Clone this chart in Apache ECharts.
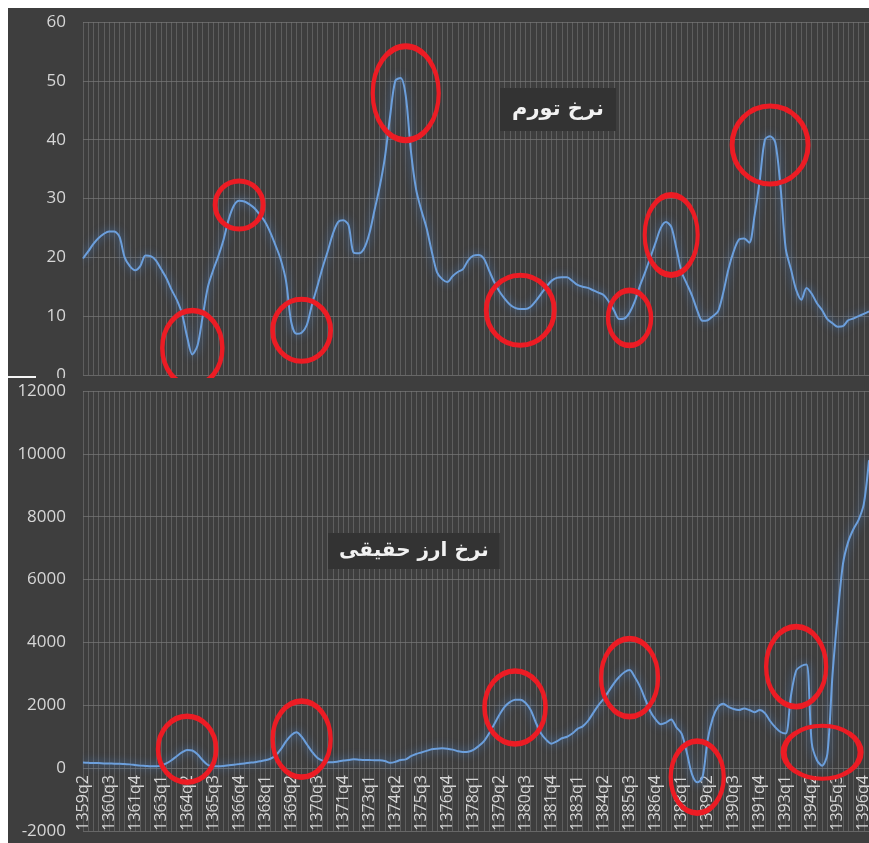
<!DOCTYPE html>
<html><head><meta charset="utf-8">
<script src="https://cdn.jsdelivr.net/npm/echarts@6/dist/echarts.min.js"></script>
<style>
html,body{margin:0;padding:0;background:#fff;width:869px;height:843px;overflow:hidden;}
#top{position:absolute;left:8px;top:8px;width:861px;height:370px;background:#3e3e3e;}
#bot{position:absolute;left:8px;top:378px;width:861px;height:465px;background:#3e3e3e;}
#sep{position:absolute;left:8px;top:376px;width:28px;height:2px;background:#f4f4f4;}
</style></head><body>
<div id="top"></div><div id="bot"></div><div id="sep"></div>
<script>
// Quarterly categories (Iranian calendar), 1359q2 .. 1397q1
var categories = [
'1359q2','1359q3','1359q4',
'1360q1','1360q2','1360q3','1360q4','1361q1','1361q2','1361q3','1361q4',
'1362q1','1362q2','1362q3','1362q4','1363q1','1363q2','1363q3','1363q4',
'1364q1','1364q2','1364q3','1364q4','1365q1','1365q2','1365q3','1365q4',
'1366q1','1366q2','1366q3','1366q4','1367q1','1367q2','1367q3','1367q4',
'1368q1','1368q2','1368q3','1368q4','1369q1','1369q2','1369q3','1369q4',
'1370q1','1370q2','1370q3','1370q4','1371q1','1371q2','1371q3','1371q4',
'1372q1','1372q2','1372q3','1372q4','1373q1','1373q2','1373q3','1373q4',
'1374q1','1374q2','1374q3','1374q4','1375q1','1375q2','1375q3','1375q4',
'1376q1','1376q2','1376q3','1376q4','1377q1','1377q2','1377q3','1377q4',
'1378q1','1378q2','1378q3','1378q4','1379q1','1379q2','1379q3','1379q4',
'1380q1','1380q2','1380q3','1380q4','1381q1','1381q2','1381q3','1381q4',
'1382q1','1382q2','1382q3','1382q4','1383q1','1383q2','1383q3','1383q4',
'1384q1','1384q2','1384q3','1384q4','1385q1','1385q2','1385q3','1385q4',
'1386q1','1386q2','1386q3','1386q4','1387q1','1387q2','1387q3','1387q4',
'1388q1','1388q2','1388q3','1388q4','1389q1','1389q2','1389q3','1389q4',
'1390q1','1390q2','1390q3','1390q4','1391q1','1391q2','1391q3','1391q4',
'1392q1','1392q2','1392q3','1392q4','1393q1','1393q2','1393q3','1393q4',
'1394q1','1394q2','1394q3','1394q4','1395q1','1395q2','1395q3','1395q4',
'1396q1','1396q2','1396q3','1396q4','1397q1'
];

// Inflation rate (%)
var inflation = [
19.8,21,22.3,23.3,24,24.4,24.4,23.5,20,18.5,
17.8,18.5,20.3,20.2,19.5,18,16.5,14.5,12.8,10.5,
6.5,3.5,5,10,15,17.8,20.2,23,26.5,28.8,
29.6,29.5,29,28.3,27.2,26,24.2,22,19.6,16,
9,7,7.2,8.5,12,15,18.2,21,24,26,
26.3,25.5,20.8,20.7,21.5,24,28,32,37,44,
50,50.5,47.5,38,31.5,28,25,21,17.5,16.3,
15.8,16.8,17.5,18,19.5,20.3,20.4,19.8,17.8,15.8,
14.2,13,12,11.4,11.2,11.2,11.6,12.6,13.8,15,
16,16.5,16.6,16.6,16,15.3,15,14.8,14.4,14,
13.6,12.5,11,9.5,9.6,10.6,12.5,15.2,17.5,20,
22.5,25,26,25.2,21.5,17.5,15.5,13.5,11,9.2,
9.3,10,10.8,14,18,21,23,23.2,22.5,27,
33,40,40.6,39.5,32,21.5,18,14.5,12.8,14.8,
13.8,12.2,11,9.5,8.8,8.2,8.3,9.3,9.6,10,
10.4,10.8
];

// Real exchange rate
var realRate = [
180,170,160,160,150,150,140,140,130,120,
100,80,70,60,60,80,150,250,380,500,
580,560,440,250,100,60,60,70,90,110,
130,150,170,190,220,250,300,400,600,850,
1050,1140,1000,760,520,330,240,190,190,210,
240,260,280,270,260,260,250,250,230,170,
200,260,280,380,450,500,550,600,620,630,
620,590,540,510,520,580,700,850,1100,1400,
1700,1950,2100,2180,2180,2080,1850,1450,1100,900,
780,850,950,1000,1100,1250,1330,1500,1750,2000,
2200,2450,2700,2900,3050,3120,2900,2600,2200,1800,
1550,1400,1450,1550,1300,1100,500,-200,-450,-300,
900,1600,1950,2050,1950,1880,1850,1900,1850,1780,
1850,1750,1500,1300,1150,1100,2300,3100,3250,3300,
800,250,80,450,3000,4900,6500,7200,7600,7900,
8400,9800
];

// Red highlight ellipses: [category index, value, width px, height px]
var inflationMarks = [
[21,4.6,60,75],[30,28.9,48,48],[42,7.6,58,62],[62,47.9,66,94],
[84,11.0,68,70],[105,9.7,43,55],[113,23.8,53,80],[132,39.1,76,78]
];
var rateMarks = [
[20,600,58,66],[42,920,58,76],[83,1930,61,73],[105,2880,57,78],
[118,-285,53,72],[137,3230,60,80],[142,507,77,53]
];

var rateMin = -2000, rateMax = 12000, rateStep = 2000;
var botGridH = 440;

var labelColor = '#d6d6d6';
var vLine = 'rgba(120,120,120,0.55)';
var hLine = '#676767';
var lineColor = '#6c9fdc';

function plain(v){ return String(v); }

function marks(arr){
  return {
    silent:true, symbol:'circle', animation:false,
    itemStyle:{color:'rgba(0,0,0,0)', borderColor:'#ec1c24', borderWidth:5},
    label:{show:false},
    data: arr.map(function(m){ return {coord:[m[0], m[1]], symbolSize:[m[2], m[3]]}; })
  };
}

function baseSeries(data, mk){
  return {
    type:'line', data:data, smooth:0.3, showSymbol:false, symbol:'none',
    lineStyle:{color:lineColor, width:2, shadowBlur:8, shadowColor:'rgba(80,140,220,0.9)'},
    markPoint: marks(mk)
  };
}

var topChart = echarts.init(document.getElementById('top'));
topChart.setOption({
  animation:false,
  title:{text:'نرخ تورم', left:492, top:80, backgroundColor:'#333333', padding:[11,12],
    textStyle:{color:'#f2f2f2', fontSize:21, fontWeight:'bold', fontFamily:'DejaVu Sans'}},
  grid:{left:75, top:14, width:786, height:353, containLabel:false, outerBoundsMode:'none'},
  xAxis:{type:'category', data:categories, boundaryGap:false,
    axisLabel:{show:false}, axisTick:{show:false}, axisLine:{show:false},
    splitLine:{show:true, interval:0, lineStyle:{color:vLine, width:1}}},
  yAxis:{type:'value', min:0, max:60, interval:10,
    axisLabel:{color:labelColor, fontSize:17, margin:17, fontFamily:'Open Sans', formatter:plain},
    axisLine:{show:false}, axisTick:{show:false},
    splitLine:{lineStyle:{color:hLine, width:1}}},
  series:[baseSeries(inflation, inflationMarks)]
});

var botChart = echarts.init(document.getElementById('bot'));
botChart.setOption({
  animation:false,
  title:{text:'نرخ ارز حقیقی', left:320, top:155, backgroundColor:'#333333', padding:[8,11],
    textStyle:{color:'#f2f2f2', fontSize:20, fontWeight:'bold', fontFamily:'DejaVu Sans'}},
  grid:{left:75, top:13, width:786, height:botGridH, containLabel:false, outerBoundsMode:'none'},
  xAxis:{type:'category', data:categories, boundaryGap:false,
    // axis sits on the zero line of the value scale
    offset: -botGridH * (0 - rateMin) / (rateMax - rateMin),
    axisLabel:{interval:4, rotate:90, color:labelColor, fontSize:16, margin:7, fontFamily:'Open Sans'},
    axisTick:{show:false},
    axisLine:{show:false, onZero:false},
    splitLine:{show:true, interval:0, lineStyle:{color:vLine, width:1}}},
  yAxis:{type:'value', min:rateMin, max:rateMax, interval:rateStep,
    axisLabel:{color:labelColor, fontSize:17, margin:17, fontFamily:'Open Sans', formatter:plain},
    axisLine:{show:false}, axisTick:{show:false},
    splitLine:{lineStyle:{color:hLine, width:1}}},
  series:[baseSeries(realRate, rateMarks)]
});
</script></body></html>
